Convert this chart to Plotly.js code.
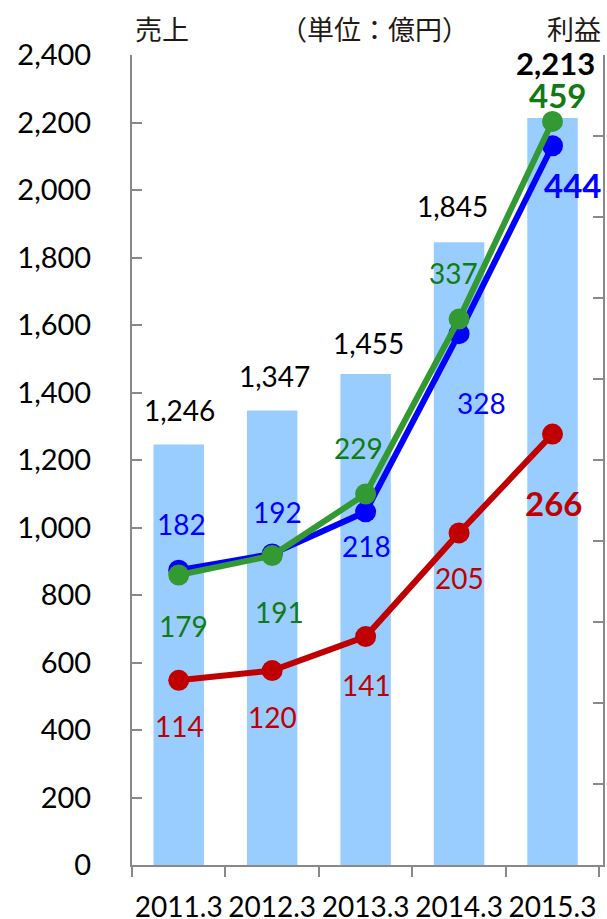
<!DOCTYPE html>
<html>
<head>
<meta charset="utf-8">
<script src="https://cdn.plot.ly/plotly-3.0.1.min.js"></script>
<style>
  html, body { margin: 0; padding: 0; background: #fff; }
  #chart { width: 607px; height: 919px; }
</style>
</head>
<body>
<div id="chart"></div>
<script>
// Fiscal periods (March year-end)
const periods = ['2011.3', '2012.3', '2013.3', '2014.3', '2015.3'];

// 売上 (left axis, 億円)
const sales = [1246, 1347, 1455, 1845, 2213];

// 利益 (right axis, 億円)
const profitBlue = [182, 192, 218, 328, 444];
const profitGreen = [179, 191, 229, 337, 459];
const profitRed = [114, 120, 141, 205, 266];

// Label offsets in pixels [dx, dy] relative to each mark
const salesLabelShift = [[1, 34], [2, 34], [3, 31], [-7, 36], [3, 55]];
const blueLabelShift = [[3, 46], [5, 42], [1, -34], [22, -69], [20, -39]];
const greenLabelShift = [[5, -51], [7, -56], [-7, 46], [-6, 46], [5, 26]];
const redLabelShift = [[1, -46], [0, -46], [1, -48], [0, -45], [1, -69]];

const AXIS_GRAY = '#898989';
const BLUE = '#0000FF';
const GREEN = '#339933';
const GREEN_TEXT = '#127a12';
const RED = '#C00000';
const NUM_FONT = 'Lato, "Noto Sans", sans-serif';
const JP_FONT = '"Noto Sans CJK JP", "Noto Sans", sans-serif';

const fmt = v => v.toLocaleString('en-US');

const traces = [
  {
    type: 'bar', x: periods, y: sales, yaxis: 'y',
    marker: { color: '#99CCFF' }, hoverinfo: 'skip'
  },
  {
    type: 'scatter', mode: 'lines+markers', x: periods, y: profitRed, yaxis: 'y2',
    line: { color: RED, width: 6 }, marker: { color: RED, size: 21 }
  },
  {
    type: 'scatter', mode: 'lines+markers', x: periods, y: profitBlue, yaxis: 'y2',
    line: { color: BLUE, width: 6 }, marker: { color: BLUE, size: 21 }
  },
  {
    type: 'scatter', mode: 'lines+markers', x: periods, y: profitGreen, yaxis: 'y2',
    line: { color: GREEN, width: 6 }, marker: { color: GREEN, size: 21 }
  }
];

const annotations = [];
const last = periods.length - 1;

// Category index i is used as the x position so the numeric-looking
// period strings are not mistaken for axis coordinates.
function addLabels(values, yref, shifts, color, size, boldLast, lastSize) {
  values.forEach((v, i) => {
    const isLast = boldLast && i === last;
    annotations.push({
      x: i, y: v, xref: 'x', yref: yref,
      text: isLast ? '<b>' + fmt(v) + '</b>' : fmt(v),
      showarrow: false, xanchor: 'center', yanchor: 'middle',
      xshift: shifts[i][0], yshift: shifts[i][1],
      font: { family: NUM_FONT, size: isLast ? lastSize : size, color: color }
    });
  });
}

addLabels(sales, 'y', salesLabelShift, '#000000', 28, true, 31);
addLabels(profitBlue, 'y2', blueLabelShift, BLUE, 28, true, 33);
addLabels(profitGreen, 'y2', greenLabelShift, GREEN_TEXT, 28, true, 33);
addLabels(profitRed, 'y2', redLabelShift, RED, 28, true, 33);

// Header texts above the plot
const headers = [
  { text: '売上', x: 0.064 },
  { text: '（単位：億円）', x: 0.515 },
  { text: '利益', x: 0.938 }
];
headers.forEach(h => annotations.push({
  text: h.text, x: h.x, y: 1.033, xref: 'paper', yref: 'paper',
  xanchor: 'center', yanchor: 'middle', showarrow: false,
  font: { family: JP_FONT, size: 27, color: '#231815' }
}));

const layout = {
  width: 607, height: 919,
  margin: { l: 132, r: 4, t: 55, b: 54 },
  paper_bgcolor: '#ffffff', plot_bgcolor: '#ffffff',
  showlegend: false,
  bargap: 0.46,
  font: { family: NUM_FONT, size: 28, color: '#000000' },
  xaxis: {
    type: 'category',
    showline: true, linecolor: AXIS_GRAY, linewidth: 2,
    ticks: 'outside', tickson: 'boundaries', ticklen: 10, tickwidth: 2, tickcolor: AXIS_GRAY,
    showgrid: false, zeroline: false,
    tickangle: 0,
    ticklabelstandoff: 16,
    tickfont: { family: NUM_FONT, size: 28, color: '#000000' }
  },
  yaxis: {
    range: [0, 2400], dtick: 200, tickformat: ',d',
    showline: true, linecolor: AXIS_GRAY, linewidth: 2,
    ticks: 'inside', ticklen: 10, tickwidth: 2, tickcolor: AXIS_GRAY,
    showgrid: false, zeroline: false,
    ticklabelstandoff: 33,
    tickfont: { family: NUM_FONT, size: 29, color: '#000000' }
  },
  yaxis2: {
    range: [0, 500], dtick: 50, overlaying: 'y', side: 'right',
    showline: true, linecolor: AXIS_GRAY, linewidth: 2,
    ticks: 'inside', ticklen: 10, tickwidth: 2, tickcolor: AXIS_GRAY,
    showticklabels: false, showgrid: false, zeroline: false
  },
  annotations: annotations
};

Plotly.newPlot('chart', traces, layout, { staticPlot: true, displayModeBar: false });
</script>
</body>
</html>
